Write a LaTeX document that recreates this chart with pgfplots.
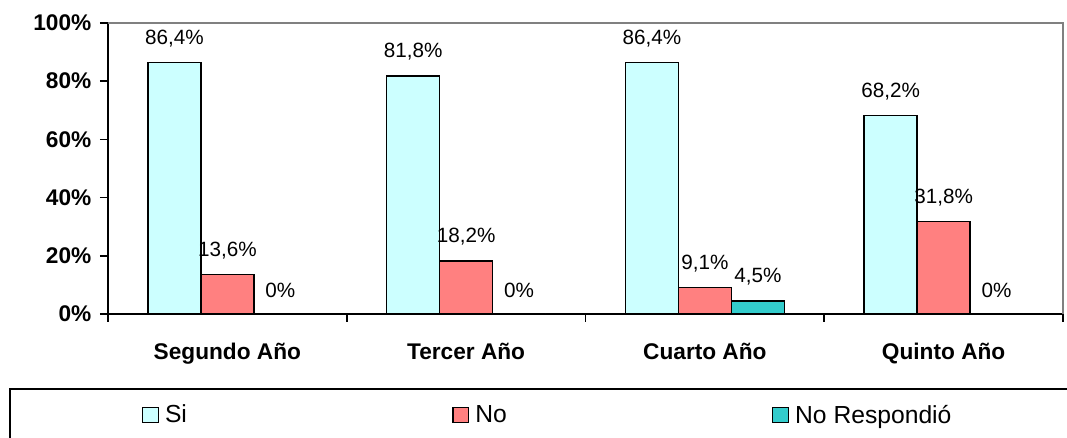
\documentclass[border=0pt]{standalone}
\usepackage{pgfplots}
\pgfplotsset{compat=1.18}
\usepackage{fontspec}
\setmainfont{Liberation Sans}
\definecolor{siC}{RGB}{204,255,255}
\definecolor{noC}{RGB}{255,128,128}
\definecolor{nrC}{RGB}{51,204,204}
\definecolor{frameC}{RGB}{128,128,128}
\begin{document}
\begin{tikzpicture}
\useasboundingbox (0,0) rectangle (800.25pt,328.5pt);
\begin{axis}[
  at={(81pt,93pt)}, anchor=south west,
  scale only axis, width=716.25pt, height=218.25pt,
  ybar=0pt, bar width=39.75pt,
  xmin=-0.5, xmax=3.5, ymin=0, ymax=100,
  clip=false,
  axis x line*=bottom, axis y line*=left,
  axis line style={black, line width=1.3pt},
  tick align=outside,
  major tick length=6pt,
  tick style={black, line width=1.2pt},
  ytick={0,20,40,60,80,100},
  yticklabels={0\%,20\%,40\%,60\%,80\%,100\%},
  yticklabel style={font=\fontsize{17}{20}\selectfont\bfseries, anchor=east, xshift=-3pt},
  xtick={-0.5,0.5,1.5,2.5,3.5},
  xticklabels={},
  extra x ticks={0,1,2,3},
  extra x tick labels={Segundo Año,Tercer Año,Cuarto Año,Quinto Año},
  extra x tick style={major tick length=0pt, xticklabel style={font=\fontsize{17}{20}\selectfont\bfseries, yshift=-18.5pt}},
  /pgf/number format/assume math mode=true,
  nodes near coords={\pgfmathprintnumber[use comma,fixed,precision=1]{\pgfplotspointmeta}\%},
  every node near coord/.append style={font=\fontsize{15.5}{18}\selectfont, anchor=center, yshift=18pt},
  legend columns=3,
  legend image code/.code={\draw[#1, draw=black, line width=1pt] (0pt,-5.8pt) rectangle (11.8pt,5.8pt);},
  legend style={at={(-0.1037,-0.254)}, anchor=north west, draw=black, line width=1.5pt,
    inner xsep=99pt, inner ysep=10pt,
    font=\fontsize{18.5}{22}\selectfont,
    /tikz/every even column/.append style={column sep=12pt}},
]
\addplot[fill=siC, draw=black, line width=1pt] coordinates {(0,86.4) (1,81.8) (2,86.4) (3,68.2)};
\addplot[fill=noC, draw=black, line width=1pt] coordinates {(0,13.6) (1,18.2) (2,9.1) (3,31.8)};
\addplot[fill=nrC, draw=black, line width=1pt] coordinates {(0,0) (1,0) (2,4.5) (3,0)};
\addlegendentry{\makebox[204pt][l]{\hspace{2.5pt}Si}}
\addlegendentry{\makebox[211pt][l]{\hspace{2.5pt}No}}
\addlegendentry{\makebox[211pt][l]{\hspace{2.5pt}No Respondió}}
\draw[frameC, line width=1.1pt] (rel axis cs:0,1) -- (rel axis cs:1,1) -- (rel axis cs:1,0);
\end{axis}
\end{tikzpicture}
\end{document}
